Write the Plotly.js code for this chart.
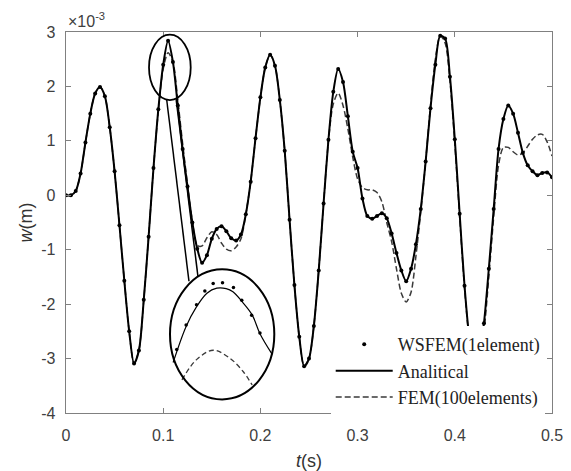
<!DOCTYPE html>
<html>
<head>
<meta charset="utf-8">
<script src="https://cdn.plot.ly/plotly-3.0.1.min.js"></script>
<style>html,body{margin:0;padding:0;background:#fff;}#chart{width:571px;height:471px;}</style>
</head>
<body>
<div id="chart"></div>
<script>
// time (s)
const t = [
0,0.005,0.01,0.015,0.02,0.025,0.03,0.035,0.04,0.045,
0.05,0.055,0.06,0.065,0.07,0.075,0.08,0.085,0.09,0.095,
0.1,0.105,0.11,0.115,0.12,0.125,0.13,0.135,0.14,0.145,
0.15,0.155,0.16,0.165,0.17,0.175,0.18,0.185,0.19,0.195,
0.2,0.205,0.21,0.215,0.22,0.225,0.23,0.235,0.24,0.245,
0.25,0.255,0.26,0.265,0.27,0.275,0.28,0.285,0.29,0.295,
0.3,0.305,0.31,0.315,0.32,0.325,0.33,0.335,0.34,0.345,
0.35,0.355,0.36,0.365,0.37,0.375,0.38,0.385,0.39,0.395,
0.4,0.405,0.41,0.415,0.42,0.425,0.43,0.435,0.44,0.445,
0.45,0.455,0.46,0.465,0.47,0.475,0.48,0.485,0.49,0.495,
0.5];

// w (x10^-3 m), analytical solution
const analytical = [
0,0,0.08,0.40,0.97,1.50,1.87,1.99,1.82,1.25,
0.44,-0.55,-1.57,-2.50,-3.09,-2.85,-1.92,-0.76,0.50,1.58,
2.40,2.84,2.45,1.65,0.85,0.16,-0.50,-0.98,-1.24,-1.10,
-0.80,-0.62,-0.57,-0.66,-0.79,-0.83,-0.72,-0.35,0.25,1.05,
1.80,2.35,2.58,2.38,1.75,0.82,-0.45,-1.65,-2.60,-3.14,
-3.00,-2.40,-1.38,-0.15,1.02,1.90,2.32,2.08,1.45,0.80,
0.50,-0.06,-0.38,-0.43,-0.38,-0.33,-0.42,-0.70,-1.06,-1.38,
-1.58,-1.35,-0.90,-0.25,0.62,1.60,2.40,2.93,2.88,2.18,
1.03,-0.34,-1.66,-2.62,-3.08,-2.95,-2.35,-1.35,-0.25,0.85,
1.40,1.65,1.50,1.15,0.78,0.55,0.44,0.37,0.41,0.42,
0.33];

// WSFEM (1 element) coincides with the analytical curve
const wsfem = analytical;

// FEM (100 elements)
const fem = [
0,0,0.08,0.40,0.97,1.50,1.87,1.99,1.82,1.25,
0.44,-0.55,-1.57,-2.50,-3.09,-2.85,-1.92,-0.76,0.50,1.55,
2.32,2.62,2.45,1.75,0.95,0.20,-0.48,-0.92,-0.93,-0.78,
-0.67,-0.72,-0.88,-0.99,-1.02,-0.95,-0.80,-0.35,0.25,1.05,
1.80,2.35,2.58,2.38,1.75,0.82,-0.45,-1.65,-2.60,-3.14,
-3.00,-2.40,-1.38,-0.15,1.00,1.68,1.88,1.65,1.22,0.70,
0.30,0.14,0.10,0.10,0.05,-0.12,-0.50,-0.85,-1.35,-1.80,
-1.96,-1.78,-1.12,-0.30,0.62,1.65,2.50,2.93,2.80,2.10,
0.95,-0.40,-1.70,-2.65,-3.12,-3.05,-2.50,-1.50,-0.40,0.55,
0.88,0.88,0.80,0.74,0.78,0.90,1.03,1.11,1.12,0.98,
0.72];

// magnified inset around the peak near t = 0.105 s
const insetTAn = [0.0956,0.0981,0.1000,0.1021,0.1040,0.1058,0.1071,0.1089,0.1108,0.1123,0.1146];
const insetAn  = [2.32,2.57,2.70,2.80,2.835,2.832,2.81,2.74,2.65,2.52,2.38];
const insetTWs = [0.0963,0.0981,0.1001,0.1017,0.1033,0.1051,0.1072,0.1088,0.1107,0.1123];
const insetWs  = [2.41,2.58,2.72,2.815,2.867,2.872,2.84,2.752,2.648,2.524];
const insetTFem = [0.0973,0.1001,0.1033,0.1065,0.1091,0.1108];
const insetFem  = [2.20,2.34,2.405,2.35,2.256,2.164];

const xTicks = [0,0.1,0.2,0.3,0.4,0.5];
const xTickLabels = ['0','0.1','0.2','0.3','0.4','0.5'];
const yTicks = [-4,-3,-2,-1,0,1,2,3];
const yTickLabels = ['-4','-3','-2','-1','0','1','2','3'];

const names = ['WSFEM(1element)','Analitical','FEM(100elements)'];

const axColor = '#808080';
const tickFont = {family:'Liberation Sans, Arial, sans-serif', size:16, color:'#404040'};

const traces = [
  {x:t, y:fem, type:'scatter', mode:'lines', name:names[2], legendrank:3,
   line:{color:'#3a3a3a', width:1.5, dash:'6px,3px', shape:'spline', smoothing:0.8}},
  {x:t, y:analytical, type:'scatter', mode:'lines', name:names[1], legendrank:2,
   line:{color:'black', width:2, shape:'spline', smoothing:0.8}},
  {x:t, y:wsfem, type:'scatter', mode:'markers', name:names[0], legendrank:1,
   marker:{color:'black', size:4}},
  {x:insetTAn, y:insetAn, xaxis:'x2', yaxis:'y2', type:'scatter', mode:'lines', showlegend:false,
   line:{color:'black', width:1.2, shape:'spline'}},
  {x:insetTWs, y:insetWs, xaxis:'x2', yaxis:'y2', type:'scatter', mode:'markers', showlegend:false,
   marker:{color:'black', size:3.5}},
  {x:insetTFem, y:insetFem, xaxis:'x2', yaxis:'y2', type:'scatter', mode:'lines', showlegend:false,
   line:{color:'#3a3a3a', width:1.3, dash:'5px,3px', shape:'spline'}}
];

const layout = {
  width:571, height:471,
  margin:{l:66, r:19, t:32, b:58, pad:0},
  paper_bgcolor:'white', plot_bgcolor:'white',
  font:{family:'Liberation Sans, Arial, sans-serif'},
  xaxis:{range:[0,0.5], tickvals:xTicks, ticktext:xTickLabels, ticks:'inside', ticklen:5,
    tickcolor:axColor, tickwidth:1, linecolor:axColor, linewidth:1.3, mirror:'ticks',
    showgrid:false, zeroline:false, tickfont:tickFont, automargin:false, ticklabelstandoff:7,
    title:{text:'<i>t</i>(s)', font:{family:'Liberation Sans, Arial, sans-serif', size:18, color:'#333'}, standoff:12}},
  yaxis:{range:[-4,3], tickvals:yTicks, ticktext:yTickLabels, ticks:'inside', ticklen:5,
    tickcolor:axColor, tickwidth:1, linecolor:axColor, linewidth:1.3, mirror:'ticks',
    showgrid:false, zeroline:false, tickfont:tickFont, automargin:false, ticklabelstandoff:6,
    title:{text:'<i>w</i>(m)', font:{family:'Liberation Sans, Arial, sans-serif', size:18, color:'#333'}, standoff:4}},
  xaxis2:{domain:[0.214,0.428], anchor:'y2', range:[0.095,0.115], visible:false, fixedrange:true},
  yaxis2:{domain:[0.034,0.375], anchor:'x2', range:[2.06,2.96], visible:false, fixedrange:true},
  showlegend:true,
  legend:{x:0.985, xanchor:'right', y:-0.008, yanchor:'bottom', bgcolor:'white', borderwidth:0,
    font:{family:'Liberation Serif, Times New Roman, serif', size:18, color:'#222'},
    itemwidth:57, tracegroupgap:0},
  shapes:[
    {type:'circle', xref:'x', yref:'y', x0:0.0854, x1:0.1283, y0:1.75, y1:2.95, line:{color:'black', width:1.8}},
    {type:'circle', xref:'x', yref:'y', x0:0.107, x1:0.2143, y0:-3.75, y1:-1.36, line:{color:'black', width:2}},
    {type:'line', xref:'x', yref:'y', x0:0.1036, y0:1.755, x1:0.1265, y1:-1.58, line:{color:'black', width:1.5}},
    {type:'line', xref:'x', yref:'y', x0:0.1132, y0:1.778, x1:0.1358, y1:-1.50, line:{color:'black', width:1.5}}
  ],
  annotations:[
    {xref:'paper', yref:'paper', x:0, y:1, xanchor:'left', yanchor:'bottom', showarrow:false,
     text:'\u00d710<sup>-3</sup>', font:{family:'Liberation Sans, Arial, sans-serif', size:16, color:'#404040'}}
  ]
};

Plotly.newPlot('chart', traces, layout, {staticPlot:true, displayModeBar:false});
</script>
</body>
</html>
